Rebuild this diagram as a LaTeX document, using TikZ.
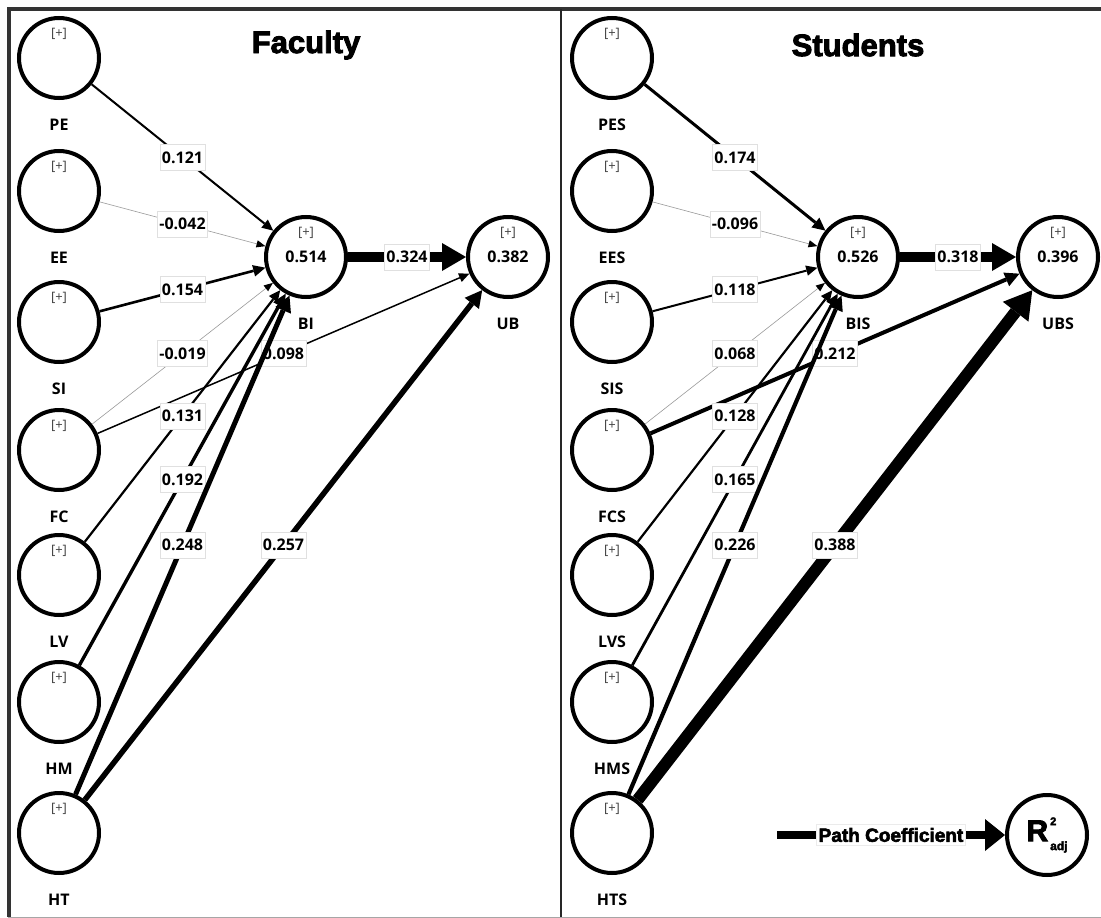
\documentclass[tikz,border=0pt]{standalone}
\usepackage{fontspec}
\setmainfont{Open Sans}
\newfontfamily\headfont[BoldFeatures={FakeBold=3}]{Liberation Sans}
\usetikzlibrary{arrows.meta}

\tikzset{
  shell/.style={circle,draw,line width=4pt,minimum size=80pt,inner sep=0pt},
  lv/.style={shell,font=\fontsize{16}{16}\selectfont\bfseries,label={[plusmark]90:{[+]}}},
  plusmark/.style={anchor=north,label distance=-11pt,inner sep=1pt,text=black!75,
    font=\fontsize{13}{13}\selectfont},
  vname/.style={label distance=18pt,inner sep=1pt,font=\fontsize{16}{16}\selectfont\bfseries},
  pc/.style={line width=#1,-{Triangle[length=8pt 1.6,width=6pt 2.2,line width=0pt,color=black]}},
  weak/.style={pc=0.6pt,draw=black!40},
  coef/.style={fill=white,draw=black!12,line width=0.5pt,inner xsep=2pt,inner ysep=0pt,
    minimum height=26pt,font=\fontsize{16}{16}\selectfont\bfseries},
  heading/.style={font={\headfont\bfseries\fontsize{31}{34}\selectfont}}
}

\begin{document}
\begin{tikzpicture}[x=1pt,y=-1pt]
  \useasboundingbox (0,0) rectangle (1101,918);
  % frame
  \draw[line width=1pt,black!35] (8,917)--(1101,917);
  \draw[line width=3.5pt,black!80] (9,917)--(9,9)--(1101,9);
  \draw[line width=1.3pt,black!85] (561,9)--(561,917);

  \node[heading] (ttlF) at (306,45) {Faculty};
  \node[heading] (ttlS) at (858,45) {Students};

  % faculty model
  \foreach \n/\y in {PE/58,EE/191,SI/322,FC/450,LV/575,HM/702,HT/833}
    \node[lv,label={[vname]below:\n}] (\n) at (59,\y) {};
  \node[lv,label={[vname]below:BI}] (BI) at (306,257) {0.514};
  \node[lv,label={[vname]below:UB}] (UB) at (508,257) {0.382};

  \draw[pc=2pt] (PE)--node[coef]{0.121}(BI);
  \draw[weak] (EE)--node[coef]{-0.042}(BI);
  \draw[pc=2.6pt] (SI)--node[coef]{0.154}(BI);
  \draw[weak] (FC)--node[coef]{-0.019}(BI);
  \draw[pc=1.5pt] (FC)--node[coef]{0.098}(UB);
  \draw[pc=2.2pt] (LV)--node[coef]{0.131}(BI);
  \draw[pc=3.4pt] (HM)--node[coef]{0.192}(BI);
  \draw[pc=5pt] (HT)--node[coef]{0.248}(BI);
  \draw[pc=5.5pt] (HT)--node[coef]{0.257}(UB);
  \draw[pc=10pt] (BI)--node[coef]{0.324}(UB);

  % students model
  \foreach \n/\y in {PES/58,EES/191,SIS/322,FCS/450,LVS/575,HMS/702,HTS/833}
    \node[lv,label={[vname]below:\n}] (\n) at (612,\y) {};
  \node[lv,label={[vname]below:BIS}] (BIS) at (858,257) {0.526};
  \node[lv,label={[vname]below:UBS}] (UBS) at (1058,257) {0.396};

  \draw[pc=3pt] (PES)--node[coef]{0.174}(BIS);
  \draw[weak] (EES)--node[coef]{-0.096}(BIS);
  \draw[pc=2pt] (SIS)--node[coef]{0.118}(BIS);
  \draw[weak] (FCS)--node[coef]{0.068}(BIS);
  \draw[pc=4pt] (FCS)--node[coef]{0.212}(UBS);
  \draw[pc=2.2pt] (LVS)--node[coef]{0.128}(BIS);
  \draw[pc=2.8pt] (HMS)--node[coef]{0.165}(BIS);
  \draw[pc=4.2pt] (HTS)--node[coef]{0.226}(BIS);
  \draw[pc=12pt] (HTS)--node[coef]{0.388}(UBS);
  \draw[pc=10pt] (BIS)--node[coef]{0.318}(UBS);

  % key
  \node[shell] (Rsq) at (1047,835) {{\headfont\bfseries\fontsize{30}{30}\selectfont R}\kern2pt%
    \rlap{\raisebox{16pt}{\headfont\bfseries\fontsize{11}{11}\selectfont 2}}%
    \raisebox{-9pt}{\headfont\bfseries\fontsize{12}{12}\selectfont adj}};
  \coordinate (keyStart) at (777,835);
  \draw[line width=8pt,-{Triangle[length=20pt,width=32pt,line width=0pt]}] (keyStart)
    --node[fill=white,draw=black!8,line width=0.5pt,inner xsep=2pt,
      font={\headfont\bfseries\fontsize{19}{19}\selectfont}]{Path Coefficient}(Rsq);
\end{tikzpicture}
\end{document}
